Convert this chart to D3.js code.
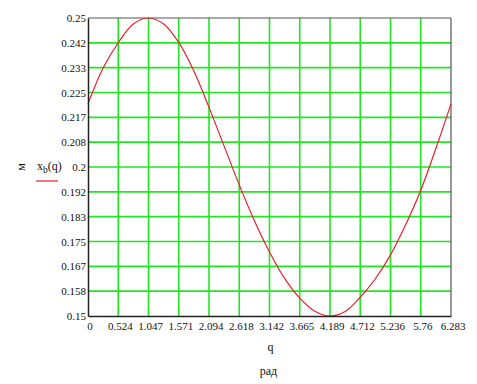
<!DOCTYPE html>
<html>
<head>
<meta charset="utf-8">
<script src="https://cdn.jsdelivr.net/npm/d3@7"></script>
<style>
  html, body { margin: 0; padding: 0; background: #fff; }
  svg { display: block; }
  svg text { font-family: "Liberation Serif", "DejaVu Serif", "Times New Roman", serif !important; fill: #111; }
</style>
</head>
<body>
<svg id="chart" width="477" height="384"></svg>
<script>
// ---- data ----
const qValues = [0, 0.2618, 0.5236, 0.7854, 1.0472, 1.309, 1.5708, 1.8326, 2.0944, 2.3562, 2.618, 2.8798, 3.1416, 3.4034, 3.6652, 3.927, 4.1888, 4.4506, 4.7124, 4.9742, 5.236, 5.4978, 5.7596, 6.0214, 6.2832];
const xbValues = [0.2212, 0.2332, 0.2417, 0.2480, 0.2500, 0.2480, 0.2418, 0.2322, 0.2200, 0.2070, 0.1940, 0.1820, 0.1715, 0.1626, 0.1560, 0.1516, 0.1500, 0.1515, 0.1563, 0.1625, 0.1705, 0.1806, 0.1922, 0.2062, 0.2212];

const xTicks = [0, 0.5236, 1.0472, 1.5708, 2.0944, 2.618, 3.1416, 3.6652, 4.1888, 4.7124, 5.236, 5.7596, 6.2832];
const xTickLabels = ["0", "0.524", "1.047", "1.571", "2.094", "2.618", "3.142", "3.665", "4.189", "4.712", "5.236", "5.76", "6.283"];
const yTicks = [0.15, 0.158333, 0.166667, 0.175, 0.183333, 0.191667, 0.2, 0.208333, 0.216667, 0.225, 0.233333, 0.241667, 0.25];
const yTickLabels = ["0.15", "0.158", "0.167", "0.175", "0.183", "0.192", "0.2", "0.208", "0.217", "0.225", "0.233", "0.242", "0.25"];

const xLabel = "q";
const xUnit = "рад";
const yUnit = "м";

// ---- layout ----
const FONT = '"Liberation Serif", "DejaVu Serif", serif';
const svg = d3.select("#chart");
const mLeft = 88, mTop = 18, plotW = 363, plotH = 298;

const x = d3.scaleLinear().domain([0, 6.2832]).range([mLeft, mLeft + plotW]);
const y = d3.scaleLinear().domain([0.15, 0.25]).range([mTop + plotH, mTop]);

// grid
const grid = svg.append("g").attr("stroke", "#22e622").attr("stroke-width", 1.6);
grid.selectAll("line.v").data(xTicks.slice(1, -1)).enter().append("line")
  .attr("x1", d => x(d)).attr("x2", d => x(d))
  .attr("y1", mTop).attr("y2", mTop + plotH);
grid.selectAll("line.h").data(yTicks.slice(1, -1)).enter().append("line")
  .attr("x1", mLeft).attr("x2", mLeft + plotW)
  .attr("y1", d => y(d)).attr("y2", d => y(d));

// frame
svg.append("line").attr("x1", mLeft).attr("x2", mLeft + plotW).attr("y1", mTop).attr("y2", mTop)
  .attr("stroke", "#555").attr("stroke-width", 1.2);
svg.append("line").attr("x1", mLeft + plotW).attr("x2", mLeft + plotW).attr("y1", mTop).attr("y2", mTop + plotH)
  .attr("stroke", "#555").attr("stroke-width", 1.2);

// curve
const line = d3.line().x((d, i) => x(qValues[i])).y(d => y(d)).curve(d3.curveCatmullRom.alpha(0.5));
svg.append("path").datum(xbValues)
  .attr("d", line)
  .attr("fill", "none")
  .attr("stroke", "#e8202c")
  .attr("stroke-width", 1.2);

// axes (left & bottom)
const xAxis = d3.axisBottom(x).tickValues(xTicks).tickSize(0).tickPadding(6)
  .tickFormat((d, i) => xTickLabels[i]);
const gx = svg.append("g").attr("transform", `translate(0,${mTop + plotH})`).call(xAxis)
  .attr("font-family", FONT).attr("font-size", 11);
gx.select(".domain").attr("stroke", "#222").attr("stroke-width", 1.5);
gx.selectAll("text").attr("dx", "1.5").attr("fill", "#111");

const yAxis = d3.axisLeft(y).tickValues(yTicks).tickSize(0).tickPadding(2)
  .tickFormat((d, i) => yTickLabels[i]);
const gy = svg.append("g").attr("transform", `translate(${mLeft},0)`).call(yAxis)
  .attr("font-family", FONT).attr("font-size", 11);
gy.select(".domain").attr("stroke", "#222").attr("stroke-width", 1.5);
gy.selectAll("text").attr("fill", "#111");

// axis titles
svg.append("text").attr("x", x(3.1416) + 1).attr("y", 351)
  .attr("text-anchor", "middle").attr("font-size", 12).text(xLabel);
svg.append("text").attr("x", x(3.1416) - 1).attr("y", 375)
  .attr("text-anchor", "middle").attr("font-size", 12).text(xUnit);

svg.append("text").attr("transform", "translate(25,167) rotate(-90)")
  .attr("text-anchor", "middle").attr("font-size", 12).text(yUnit);

// legend
const leg = svg.append("text").attr("x", 37).attr("y", 170).attr("font-size", 12);
leg.append("tspan").text("x");
leg.append("tspan").attr("dy", 3).attr("font-size", 9.5).text("b");
leg.append("tspan").attr("dy", -3).text("(q)");
svg.append("line").attr("x1", 36).attr("x2", 58).attr("y1", 181).attr("y2", 181)
  .attr("stroke", "#e8202c").attr("stroke-width", 1.2);
</script>
</body>
</html>
